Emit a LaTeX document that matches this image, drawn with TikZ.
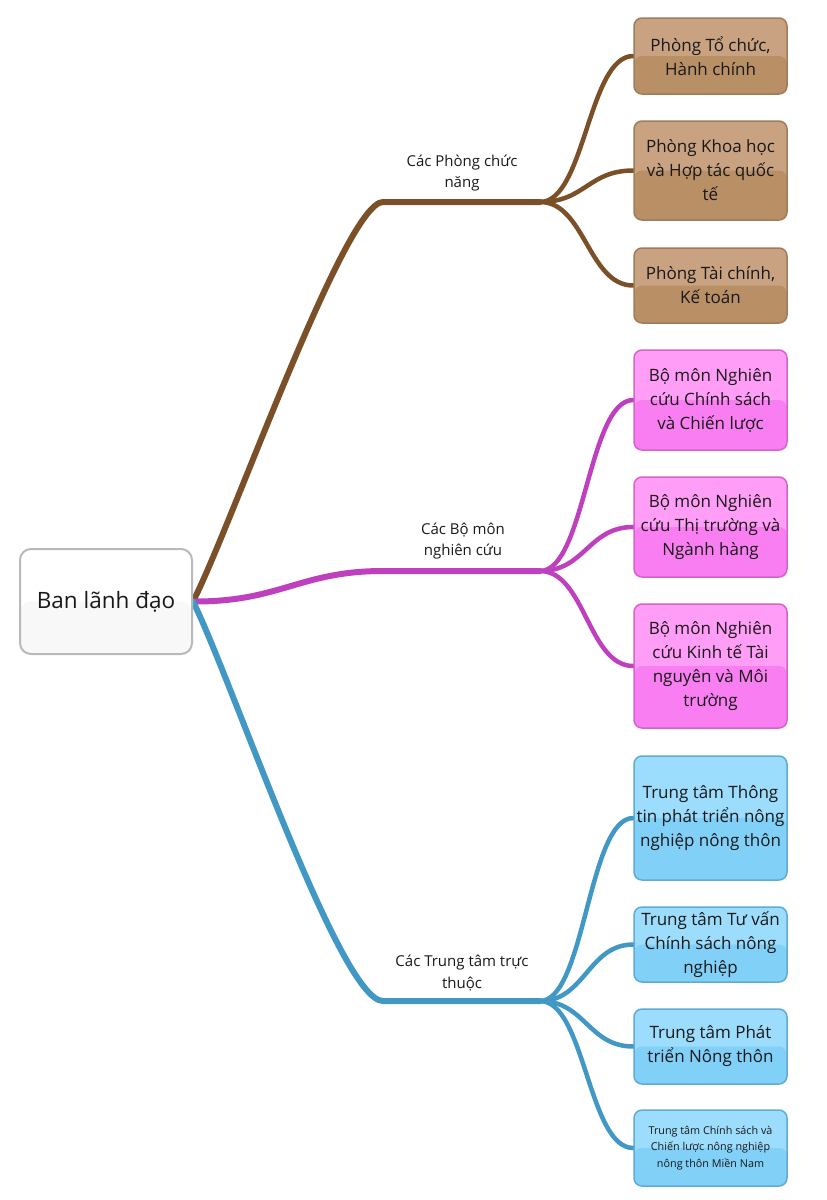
\documentclass[tikz,border=0pt]{standalone}
\usepackage{fontspec}
\setmainfont{Open Sans}
\usetikzlibrary{backgrounds}

\definecolor{inkcol}{RGB}{25,25,25}
\definecolor{leadborder}{RGB}{185,185,185}
\definecolor{leadbot}{RGB}{248,248,248}
\definecolor{brownline}{RGB}{123,80,40}
\definecolor{browntop}{RGB}{201,163,129}
\definecolor{brownbot}{RGB}{185,143,101}
\definecolor{browndraw}{RGB}{160,124,90}
\definecolor{pinkline}{RGB}{191,64,191}
\definecolor{pinktop}{RGB}{255,157,247}
\definecolor{pinkbot}{RGB}{249,126,241}
\definecolor{pinkdraw}{RGB}{210,100,202}
\definecolor{blueline}{RGB}{66,152,196}
\definecolor{bluetop}{RGB}{156,220,252}
\definecolor{bluebot}{RGB}{128,208,248}
\definecolor{bluedraw}{RGB}{96,170,211}

\newcommand{\leadfont}{\fontsize{22.5}{28}\selectfont}
\newcommand{\unitfont}{\fontsize{17}{24}\selectfont}
\newcommand{\smallunitfont}{\fontsize{10.8}{16.5}\selectfont}
\newcommand{\branchfont}{\fontsize{15}{21.5}\selectfont}

\begin{document}
\begin{tikzpicture}[
		x=1pt, y=-1pt,
		every node/.style={text=inkcol},
		leadbox/.style={draw=leadborder, line width=2pt, rounded corners=11pt, fill=white,
				minimum width=172pt, minimum height=105pt, font=\leadfont,
				path picture={\fill[leadbot] (path picture bounding box.west) rectangle (path picture bounding box.south east);}},
		unitbox/.style n args={3}{draw=#3, line width=1.5pt, rounded corners=8pt, fill=#1,
				minimum width=153pt, align=center, inner sep=2pt, font=\unitfont,
				path picture={\fill[#2] (path picture bounding box.west) rectangle (path picture bounding box.south east);}},
		branchlabel/.style={align=center, font=\branchfont},
		trunk/.style={line width=6pt, line cap=round},
		twig/.style={line width=4.5pt, line cap=round}
	]
	\useasboundingbox (0,0) rectangle (827,1200);

	% trung tam
	\node[leadbox] (lead) at (106,601.5) {Ban lãnh đạo};

	% cac phong chuc nang
	\node[unitbox={browntop}{brownbot}{browndraw}, minimum height=76pt] (pto) at (710.5,56) {Phòng Tổ chức,\\Hành chính};
	\node[unitbox={browntop}{brownbot}{browndraw}, minimum height=99pt] (pkh) at (710.5,170.5) {Phòng Khoa học\\và Hợp tác quốc\\tế};
	\node[unitbox={browntop}{brownbot}{browndraw}, minimum height=75pt] (ptc) at (710.5,285.5) {Phòng Tài chính,\\Kế toán};

	% cac bo mon
	\node[unitbox={pinktop}{pinkbot}{pinkdraw}, minimum height=100pt] (bmcs) at (710.5,400) {Bộ môn Nghiên\\cứu Chính sách\\và Chiến lược};
	\node[unitbox={pinktop}{pinkbot}{pinkdraw}, minimum height=100pt] (bmtt) at (710.5,527) {Bộ môn Nghiên\\cứu Thị trường và\\Ngành hàng};
	\node[unitbox={pinktop}{pinkbot}{pinkdraw}, minimum height=124pt] (bmkt) at (710.5,666) {Bộ môn Nghiên\\cứu Kinh tế Tài\\nguyên và Môi\\trường};

	% cac trung tam
	\node[unitbox={bluetop}{bluebot}{bluedraw}, minimum height=124pt] (tttt) at (710.5,818) {Trung tâm Thông\\tin phát triển nông\\nghiệp nông thôn};
	\node[unitbox={bluetop}{bluebot}{bluedraw}, minimum height=75pt] (ttvt) at (710.5,944.5) {Trung tâm Tư vấn\\Chính sách nông\\nghiệp};
	\node[unitbox={bluetop}{bluebot}{bluedraw}, minimum height=75pt] (ttpt) at (710.5,1046.5) {Trung tâm Phát\\triển Nông thôn};
	\node[unitbox={bluetop}{bluebot}{bluedraw}, minimum height=76pt, font=\smallunitfont] (ttmn) at (710.5,1148) {Trung tâm Chính sách và\\Chiến lược nông nghiệp\\nông thôn Miền Nam};

	% nhan nhanh
	\node[branchlabel] (lblpb) at (462,173) {Các Phòng chức\\năng};
	\node[branchlabel] (lblbm) at (463,541) {Các Bộ môn\\nghiên cứu};
	\node[branchlabel] (lbltt) at (462,973) {Các Trung tâm trực\\thuộc};

	\coordinate (kpb) at (383,202);
	\coordinate (jpb) at (540,202);
	\coordinate (kbm) at (383,571);
	\coordinate (jbm) at (540,571);
	\coordinate (ktt) at (383,1001);
	\coordinate (jtt) at (540,1001);

	\begin{pgfonlayer}{background}
		\draw[trunk, brownline] (lead.east) .. controls (230,530) and (345,202) .. (kpb) -- (jpb);
		\draw[trunk, pinkline] (lead.east) .. controls (280,602) and (300,571) .. (kbm) -- (jbm);
		\draw[trunk, blueline] (lead.east) .. controls (230,675) and (340,1001) .. (ktt) -- (jtt);
		\foreach \u in {pto,pkh,ptc}
		\draw[twig, brownline] (jpb) .. controls +(45,0) and +(-45,0) .. (\u.west);
		\foreach \u in {bmcs,bmtt,bmkt}
		\draw[twig, pinkline] (jbm) .. controls +(45,0) and +(-45,0) .. (\u.west);
		\foreach \u in {tttt,ttvt,ttpt,ttmn}
		\draw[twig, blueline] (jtt) .. controls +(45,0) and +(-45,0) .. (\u.west);
	\end{pgfonlayer}
\end{tikzpicture}
\end{document}
